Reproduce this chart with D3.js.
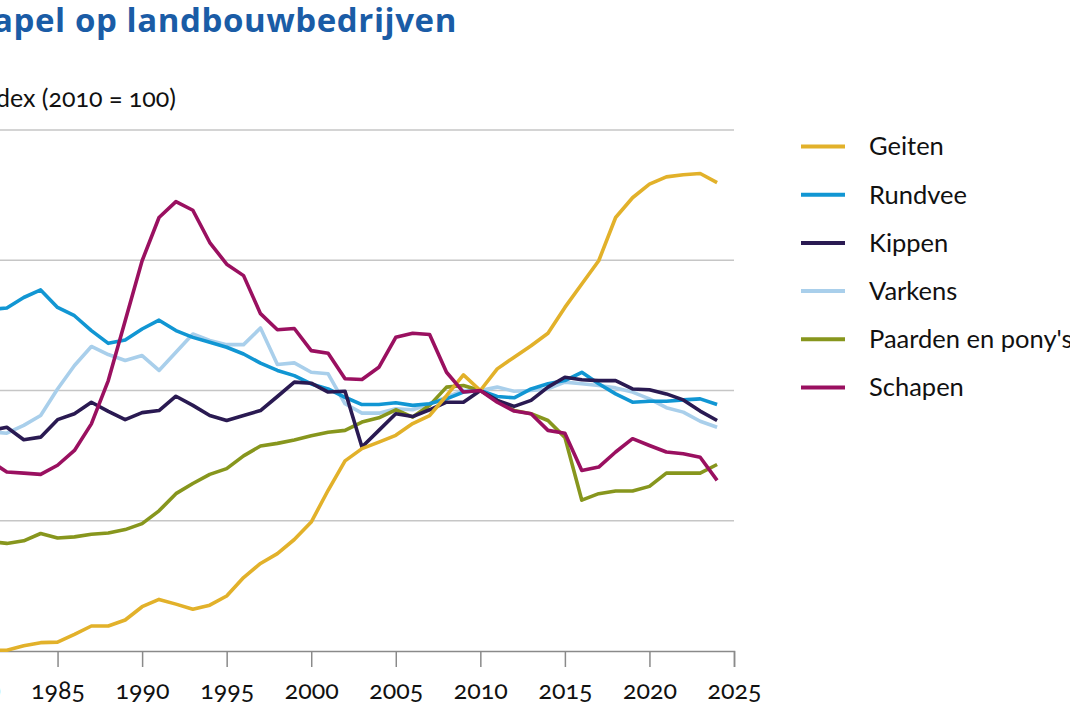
<!DOCTYPE html>
<html>
<head>
<meta charset="utf-8">
<script src="https://cdn.jsdelivr.net/npm/d3@7"></script>
<style>
	html, body { margin: 0; padding: 0; background: #fff; }
	svg text { font-family: Lato, "Open Sans", sans-serif; font-variant-numeric: oldstyle-nums; }
</style>
</head>
<body>
<div id="chart"></div>
<script>
// jaren en indexcijfers (2010 = 100)
var years = [1980, 1981, 1982, 1983, 1984, 1985, 1986, 1987, 1988, 1989,
	1990, 1991, 1992, 1993, 1994, 1995, 1996, 1997, 1998, 1999,
	2000, 2001, 2002, 2003, 2004, 2005, 2006, 2007, 2008, 2009,
	2010, 2011, 2012, 2013, 2014, 2015, 2016, 2017, 2018, 2019,
	2020, 2021, 2022, 2023, 2024];

var geiten = [0.5, 0.3, 0.3, 2.0, 3.2, 3.4, 6.4, 9.6, 9.6, 11.9,
	17.0, 19.8, 18.0, 16.0, 17.6, 21.1, 28.2, 33.6, 37.4, 42.8,
	49.5, 61.7, 73.0, 77.7, 80.2, 82.8, 87.3, 90.4, 98.0, 106.0,
	100, 108.3, 112.8, 117.2, 122.0, 131.9, 140.9, 149.8, 166.4, 174.0,
	179.2, 182.0, 182.8, 183.3, 179.8];

var rundvee = [129, 131, 131.7, 135.7, 138.6, 131.9, 128.7, 123.0, 118.1, 119.4,
	123.6, 127.0, 123.0, 120.4, 118.5, 116.6, 114.0, 110.5, 107.7, 105.7,
	102.5, 100.6, 97.4, 94.6, 94.6, 95.3, 94.3, 94.9, 96.8, 99.4,
	100, 97.7, 97.2, 100.6, 102.6, 103.8, 107.0, 102.6, 98.7, 95.5,
	95.9, 95.9, 96.4, 96.8, 94.6];

var kippen = [84, 84.5, 85.9, 81.1, 82.1, 88.8, 91.1, 95.5, 92.0, 88.8,
	91.5, 92.3, 97.8, 94.3, 90.4, 88.5, 90.4, 92.3, 97.7, 103.2,
	102.8, 99.4, 99.7, 78.3, 84.7, 91.1, 90.0, 92.6, 95.5, 95.5,
	100, 96.2, 93.9, 96.2, 101.3, 105.1, 104.1, 103.8, 103.8, 100.6,
	100.3, 98.7, 96.4, 92.1, 88.5];

var varkens = [83, 84.2, 83.6, 86.6, 90.4, 100.6, 109.6, 116.9, 113.8, 111.5,
	113.4, 107.7, 114.7, 121.7, 119.2, 117.6, 117.6, 124.0, 110.0, 110.6,
	107.0, 106.4, 94.9, 91.3, 91.3, 93.0, 92.6, 94.9, 97.4, 100,
	100, 101.3, 99.7, 100, 100.6, 103.2, 102.6, 101.9, 101.0, 99.4,
	96.8, 93.4, 91.7, 88.2, 85.9];

var paarden = [42, 42, 41.3, 42.3, 45.1, 43.4, 43.8, 44.8, 45.3, 46.6,
	48.9, 53.8, 60.4, 64.3, 67.8, 70.0, 74.9, 78.7, 79.7, 81.0,
	82.6, 84.0, 84.7, 87.9, 89.5, 92.6, 89.8, 94.3, 101.3, 101.9,
	100, 96.2, 92.3, 91.1, 88.5, 82.0, 57.9, 60.4, 61.4, 61.4,
	63.2, 68.3, 68.3, 68.3, 71.6];

var schapen = [74, 73, 68.7, 68.3, 67.8, 71.3, 77.0, 87.2, 103.8, 126.8,
	149.8, 166.4, 172.5, 169.2, 156.8, 148.5, 144.1, 129.5, 123.3, 123.8,
	115.3, 114.3, 104.5, 104.2, 108.9, 120.4, 122.0, 121.5, 107.0, 99.4,
	100, 95.5, 92.1, 91.1, 84.7, 83.6, 69.3, 70.6, 76.4, 81.5,
	78.9, 76.4, 75.7, 74.4, 65.5];

var seriesNames = ['Geiten', 'Rundvee', 'Kippen', 'Varkens', "Paarden en pony's", 'Schapen'];
var seriesValues = [geiten, rundvee, kippen, varkens, paarden, schapen];
var seriesColors = ['#e2b12a', '#1196d3', '#2a1a52', '#a9cfeb', '#87961d', '#9a1060'];
// tekenvolgorde, schapen bovenop
var drawOrder = [3, 4, 1, 2, 0, 5];

var xTicks = [1980, 1985, 1990, 1995, 2000, 2005, 2010, 2015, 2020, 2025];
var yTicks = [0, 50, 100, 150, 200];

var width = 1070, height = 713;

var svg = d3.select('#chart').append('svg')
	.attr('width', width)
	.attr('height', height);

// de grafiek valt links buiten beeld, net als in het origineel
var x = d3.scaleLinear().domain([1980, 2025]).range([-27, 734]);
var y = d3.scaleLinear().domain([0, 200]).range([651, 130]);

svg.append('text')
	.attr('x', 457)
	.attr('y', 32)
	.attr('text-anchor', 'end')
	.style('font-family', '"Open Sans", Lato, sans-serif')
	.attr('font-size', '33px')
	.attr('letter-spacing', '0.6px')
	.attr('font-weight', 'bold')
	.attr('fill', '#1a5ca6')
	.text('Veestapel op landbouwbedrijven');

svg.append('text')
	.attr('x', 176)
	.attr('y', 107)
	.attr('text-anchor', 'end')
	.attr('font-size', '25px')
	.attr('fill', '#111')
	.text('Index (2010 = 100)');

//Gridlines
svg.append('g')
	.attr('class', 'grid')
	.selectAll('line')
	.data(yTicks.filter(function(d){ return d > 0; }))
	.enter()
		.append('line')
			.attr('x1', x(1980))
			.attr('x2', x(2025))
			.attr('y1', function(d){ return y(d); })
			.attr('y2', function(d){ return y(d); })
			.attr('stroke', '#c6c6c6')
			.attr('stroke-width', 1.5);

//X axis
var xAxis = svg.append('g')
	.attr('transform', 'translate(0,' + y(0) + ')')
	.call(d3.axisBottom(x)
		.tickValues(xTicks)
		.tickFormat(d3.format('d'))
		.tickSize(16)
		.tickPadding(14));
xAxis.select('.domain').attr('stroke', '#8a8a8a').attr('stroke-width', 1.5);
xAxis.selectAll('.tick line').attr('stroke', '#8a8a8a').attr('stroke-width', 1.5);
xAxis.selectAll('.tick text')
	.attr('font-size', '25px')
	.attr('fill', '#111');

//Lines
var line = d3.line()
	.x(function(d, i){ return x(years[i]); })
	.y(function(d){ return y(d); });

svg.append('g')
	.attr('class', 'lines')
	.selectAll('path')
	.data(drawOrder)
	.enter()
		.append('path')
			.attr('d', function(k){ return line(seriesValues[k]); })
			.attr('fill', 'none')
			.attr('stroke', function(k){ return seriesColors[k]; })
			.attr('stroke-width', 3.6)
			.attr('stroke-linejoin', 'round');

//Legend
var legend = svg.append('g')
	.attr('class', 'legend')
	.selectAll('g')
	.data(seriesNames)
	.enter()
		.append('g')
			.attr('transform', function(d, i){ return 'translate(801,' + (146.5 + i * 48.2) + ')'; });

legend.append('line')
	.attr('x1', 0)
	.attr('x2', 44)
	.attr('stroke', function(d, i){ return seriesColors[i]; })
	.attr('stroke-width', 4);

legend.append('text')
	.attr('x', 68)
	.attr('dy', '0.35em')
	.attr('font-size', '25.5px')
	.attr('fill', '#111')
	.text(function(d){ return d; });
</script>
</body>
</html>
